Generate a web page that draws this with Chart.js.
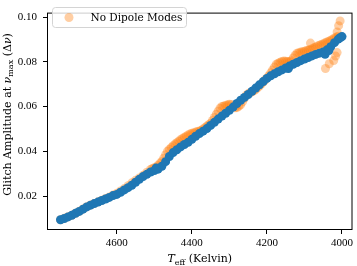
<!DOCTYPE html>
<html>
<head>
<meta charset="utf-8">
<script src="https://cdn.jsdelivr.net/npm/chart.js@4"></script>
<style>
  html, body { margin: 0; padding: 0; background: #fff; }
  #chart { display: block; }
</style>
</head>
<body>
<canvas id="chart" width="357" height="266"></canvas>
<script>
// series
const blueTeff = [
  4750, 4740, 4730, 4720, 4710, 4700, 4690, 4680, 4670, 4660,
  4650, 4640, 4630, 4620, 4610, 4600, 4590, 4580, 4570, 4560,
  4550, 4540, 4530, 4520, 4510, 4500, 4490, 4480, 4470, 4460,
  4450, 4440, 4430, 4420, 4410, 4400, 4390, 4380, 4370, 4360,
  4350, 4340, 4330, 4320, 4310, 4300, 4290, 4280, 4270, 4260,
  4250, 4240, 4230, 4220, 4210, 4200, 4190, 4180, 4170, 4160,
  4150, 4140, 4130, 4120, 4110, 4100, 4090, 4080, 4070, 4060,
  4050, 4040, 4030, 4020, 4010, 4005, 4000,
  4045, 4035, 4143, 4495
];
const blueAmp = [
  0.00936, 0.00996, 0.01064, 0.01136, 0.01226, 0.01311, 0.01413, 0.01511, 0.01592, 0.01660,
  0.01728, 0.01800, 0.01868, 0.01936, 0.02017, 0.02072, 0.02170, 0.02272, 0.02374, 0.02480,
  0.02613, 0.02745, 0.02868, 0.02970, 0.03072, 0.03136, 0.03200, 0.03330, 0.03536, 0.03766,
  0.03940, 0.04068, 0.04196, 0.04302, 0.04400, 0.04532, 0.04672, 0.04791, 0.04898, 0.05013,
  0.05157, 0.05293, 0.05438, 0.05574, 0.05702, 0.05830, 0.05974, 0.06136, 0.06280, 0.06408,
  0.06536, 0.06680, 0.06825, 0.06970, 0.07114, 0.07259, 0.07374, 0.07463, 0.07553, 0.07638,
  0.07723, 0.07808, 0.07889, 0.07970, 0.08051, 0.08123, 0.08195, 0.08263, 0.08331, 0.08387,
  0.08442, 0.08536, 0.08672, 0.08855, 0.09012, 0.09076, 0.09127,
  0.08340, 0.08500, 0.07700, 0.03250
];

const orangeTeff = [
  4750, 4740, 4730, 4720, 4710, 4700, 4690, 4680, 4670, 4660,
  4650, 4640, 4630, 4620, 4610, 4600, 4590, 4580, 4570, 4560,
  4550, 4540, 4530, 4520, 4510, 4505, 4500, 4495, 4490, 4485,
  4480, 4475, 4470, 4465, 4460, 4455, 4450, 4445, 4440, 4435,
  4430, 4425, 4420, 4415, 4410, 4405, 4400, 4395, 4390, 4385,
  4380, 4375, 4370, 4365, 4360, 4355, 4350, 4345, 4340, 4335,
  4330, 4325, 4320, 4315, 4310, 4305, 4300, 4295, 4290, 4285,
  4280, 4275, 4270, 4265, 4260, 4255, 4250, 4245, 4240, 4235,
  4230, 4225, 4220, 4215, 4210, 4205, 4200, 4195, 4190, 4185,
  4180, 4175, 4170, 4165, 4160, 4155, 4150, 4145, 4140, 4135,
  4130, 4125, 4120, 4115, 4110, 4105, 4100, 4095, 4090, 4085,
  4080, 4075, 4070, 4065, 4060, 4055, 4050, 4045, 4040, 4035,
  4030, 4025, 4020, 4015, 4010,
  4005, 4009, 4013, 4084, 4013, 4017, 4022, 4034, 4044
];
const orangeAmp = [
  0.00940, 0.01000, 0.01070, 0.01140, 0.01230, 0.01318, 0.01420, 0.01520, 0.01600, 0.01668,
  0.01738, 0.01812, 0.01885, 0.01960, 0.02045, 0.02120, 0.02225, 0.02330, 0.02460, 0.02590,
  0.02700, 0.02810, 0.02925, 0.03060, 0.03190, 0.03230, 0.03265, 0.03300, 0.03380, 0.03460,
  0.03545, 0.03690, 0.03850, 0.04000, 0.04085, 0.04165, 0.04245, 0.04320, 0.04385, 0.04450,
  0.04520, 0.04575, 0.04625, 0.04675, 0.04725, 0.04770, 0.04805, 0.04832, 0.04858, 0.04880,
  0.04905, 0.04935, 0.05000, 0.05060, 0.05125, 0.05190, 0.05258, 0.05380, 0.05515, 0.05655,
  0.05790, 0.05925, 0.06000, 0.06025, 0.06050, 0.06075, 0.06100, 0.06096, 0.06020, 0.05945,
  0.05950, 0.06012, 0.06075, 0.06215, 0.06365, 0.06510, 0.06575, 0.06615, 0.06655, 0.06700,
  0.06760, 0.06840, 0.06920, 0.07005, 0.07095, 0.07188, 0.07280, 0.07378, 0.07508, 0.07632,
  0.07765, 0.07895, 0.07940, 0.07975, 0.08012, 0.08034, 0.08026, 0.08014, 0.08002, 0.08050,
  0.08170, 0.08290, 0.08385, 0.08408, 0.08434, 0.08455, 0.08476, 0.08502, 0.08523, 0.08544,
  0.08583, 0.08625, 0.08664, 0.08705, 0.08743, 0.08778, 0.08812, 0.08847, 0.08885, 0.08922,
  0.08965, 0.09012, 0.09062, 0.09105, 0.09145,
  0.09830, 0.09617, 0.09331, 0.08838, 0.08412, 0.08255, 0.08055, 0.07915, 0.07702
];

const xTicks = [4600, 4400, 4200, 4000];
const yTicks = [0.02, 0.04, 0.06, 0.08, 0.10];
const legendLabel = 'No Dipole Modes';

const BLUE = '#1f77b4';
const ORANGE_LIGHT = 'rgba(255, 127, 14, 0.38)';
const TICK_FONT = { family: '"Liberation Serif", serif', size: 11 };
const TITLE_FAMILY = '"DejaVu Serif", serif';

const toPoints = (xs, ys) => xs.map((x, i) => ({ x, y: ys[i] }));

// full frame, axis titles (with subscripts) and the framed legend
const decorations = {
    id: 'decorations',
    afterDraw(chart) {
        const { ctx, chartArea: a } = chart;
        ctx.save();

        ctx.strokeStyle = '#000';
        ctx.lineWidth = 1;
        ctx.strokeRect(a.left + 0.5, a.top + 0.5, a.right - a.left - 1, a.bottom - a.top - 1);

        ctx.fillStyle = '#000';
        ctx.textBaseline = 'alphabetic';

        // x title: T_eff (Kelvin)
        const big = `11px ${TITLE_FAMILY}`;
        const bigItalic = `italic 11px ${TITLE_FAMILY}`;
        const small = `8px ${TITLE_FAMILY}`;
        ctx.font = bigItalic; const wT = ctx.measureText('T').width;
        ctx.font = small; const wSub = ctx.measureText('eff').width;
        ctx.font = big; const wRest = ctx.measureText(' (Kelvin)').width;
        let x = (a.left + a.right) / 2 - (wT + wSub + wRest) / 2;
        const yBase = 262;
        ctx.textAlign = 'left';
        ctx.font = bigItalic; ctx.fillText('T', x, yBase); x += wT;
        ctx.font = small; ctx.fillText('eff', x, yBase + 2.5); x += wSub;
        ctx.font = big; ctx.fillText(' (Kelvin)', x, yBase);

        // y title: Glitch Amplitude at nu_max (Delta nu)
        ctx.save();
        ctx.translate(10.5, 114.5);
        ctx.rotate(-Math.PI / 2);
        const parts = [
            { t: 'Glitch Amplitude at ', f: big, dy: 0 },
            { t: 'ν', f: bigItalic, dy: 0 },
            { t: 'max', f: small, dy: 2.5 },
            { t: ' (Δ', f: big, dy: 0 },
            { t: 'ν', f: bigItalic, dy: 0 },
            { t: ')', f: big, dy: 0 }
        ];
        let total = 0;
        parts.forEach(p => { ctx.font = p.f; p.w = ctx.measureText(p.t).width; total += p.w; });
        let px = -total / 2;
        parts.forEach(p => { ctx.font = p.f; ctx.fillText(p.t, px, p.dy); px += p.w; });
        ctx.restore();

        // legend box
        ctx.beginPath();
        ctx.roundRect(52.5, 7.5, 134, 20, 3);
        ctx.fillStyle = 'rgba(255,255,255,0.8)';
        ctx.fill();
        ctx.strokeStyle = '#d4d4d4';
        ctx.stroke();
        ctx.beginPath();
        ctx.arc(69, 17.5, 4.5, 0, Math.PI * 2);
        ctx.fillStyle = ORANGE_LIGHT;
        ctx.fill();
        ctx.fillStyle = '#000';
        ctx.font = `10.5px ${TITLE_FAMILY}`;
        ctx.textBaseline = 'middle';
        ctx.fillText(legendLabel, 90.5, 18);

        ctx.restore();
    }
};

new Chart(document.getElementById('chart'), {
    type: 'scatter',
    data: {
        datasets: [
            {
                label: legendLabel,
                data: toPoints(orangeTeff, orangeAmp),
                backgroundColor: ORANGE_LIGHT,
                pointBorderWidth: 0,
                pointRadius: 4.5,
                order: 1
            },
            {
                label: 'All Modes',
                data: toPoints(blueTeff, blueAmp),
                backgroundColor: BLUE,
                pointBorderWidth: 0,
                pointRadius: 4.5,
                order: 0
            }
        ]
    },
    options: {
        responsive: false,
        animation: false,
        events: [],
        layout: { padding: { top: 2, right: 2, left: 0, bottom: 0 } },
        plugins: {
            legend: { display: false },
            tooltip: { enabled: false }
        },
        scales: {
            x: {
                type: 'linear',
                reverse: true,
                min: 3972,
                max: 4786,
                afterBuildTicks: axis => { axis.ticks = xTicks.map(v => ({ value: v })); },
                afterFit: scale => { scale.height = 36; },
                border: { display: false },
                grid: { drawOnChartArea: false, drawTicks: true, tickLength: 4, color: '#000' },
                ticks: {
                    font: TICK_FONT,
                    color: '#000',
                    padding: 3,
                    maxRotation: 0,
                    callback: v => String(v)
                }
            },
            y: {
                type: 'linear',
                min: 0.0048,
                max: 0.102,
                afterBuildTicks: axis => { axis.ticks = yTicks.map(v => ({ value: v })); },
                afterFit: scale => { scale.width = 47; },
                border: { display: false },
                grid: { drawOnChartArea: false, drawTicks: true, tickLength: 4, color: '#000' },
                ticks: {
                    font: TICK_FONT,
                    color: '#000',
                    padding: 6,
                    callback: v => v.toFixed(2)
                }
            }
        }
    },
    plugins: [decorations]
});
</script>
</body>
</html>
